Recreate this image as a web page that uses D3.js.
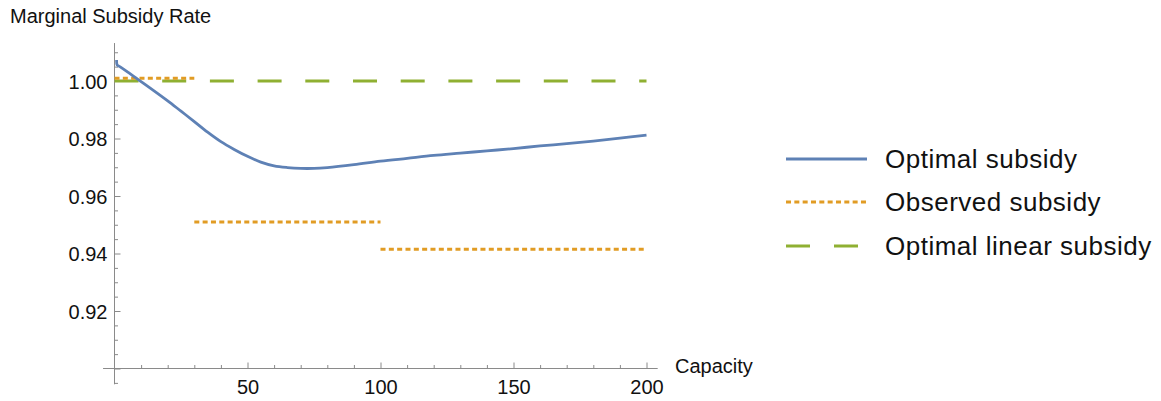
<!DOCTYPE html>
<html>
<head>
<meta charset="utf-8">
<script src="https://cdn.jsdelivr.net/npm/d3@7"></script>
<style>
  html, body { margin: 0; padding: 0; background: #fff; }
  svg { display: block; }
</style>
</head>
<body>
<svg id="chart" width="1161" height="401"></svg>
<script>
// ---- data ----
const capacity = [0.8, 1, 2, 5, 10, 15, 20, 25, 30, 35, 40, 45, 50, 55, 60, 65, 70, 75, 80, 90,
                  100, 110, 120, 130, 140, 150, 160, 170, 180, 190, 200];
const optimalSubsidy = [1.0073, 1.0056, 1.0050, 1.0031, 0.9998, 0.9965, 0.9931, 0.9895, 0.9859, 0.9822,
                        0.9789, 0.9762, 0.9738, 0.9718, 0.9705, 0.9699, 0.9696, 0.9696, 0.9699, 0.9709,
                        0.9721, 0.9731, 0.9741, 0.9749, 0.9757, 0.9765, 0.9774, 0.9782, 0.9791, 0.9801, 0.9812];
const observedStart = [0, 30, 100];
const observedEnd   = [30, 100, 200];
const observedRate  = [1.001, 0.951, 0.9415];
const linearCapacity = [0, 200];
const linearRate     = [1.0, 1.0];
const seriesNames = ["Optimal subsidy", "Observed subsidy", "Optimal linear subsidy"];
const xMajorTicks = [50, 100, 150, 200];
const yMajorTicks = [0.90, 0.92, 0.94, 0.96, 0.98, 1.00];

// ---- layout ----
const colors = ["#5E81B5", "#E19C24", "#8FB032"];
const svg = d3.select("#chart");
const x = d3.scaleLinear().domain([0, 200]).range([114.5, 646.5]);
const y = d3.scaleLinear().domain([0.90, 1.00]).range([368.5, 81]);
const axisColor = "#8a8a8a";
const font = "'Liberation Sans', Arial, sans-serif";

// axis lines
svg.append("line").attr("x1", x(-4.3)).attr("x2", x(204.2))
  .attr("y1", y(0.9)).attr("y2", y(0.9)).attr("stroke", axisColor).attr("stroke-width", 1);
svg.append("line").attr("x1", x(0)).attr("x2", x(0))
  .attr("y1", y(1.0132)).attr("y2", y(0.8945)).attr("stroke", axisColor).attr("stroke-width", 1);

// minor ticks
const xMinor = d3.range(10, 201, 10).filter(v => v % 50 !== 0);
svg.append("g").attr("transform", `translate(0,${y(0.9)})`)
  .call(d3.axisBottom(x).tickValues(xMinor).tickSizeInner(-3.5).tickSizeOuter(0).tickFormat(""))
  .call(g => g.select(".domain").remove())
  .call(g => g.selectAll("line").attr("stroke", axisColor));
const yMinor = d3.range(0, 24).map(i => +(0.895 + i * 0.005).toFixed(3)).filter(v => Math.round(v * 1000) % 20 !== 0);
svg.append("g").attr("transform", `translate(${x(0)},0)`)
  .call(d3.axisLeft(y).tickValues(yMinor).tickSizeInner(-3.5).tickSizeOuter(0).tickFormat(""))
  .call(g => g.select(".domain").remove())
  .call(g => g.selectAll("line").attr("stroke", axisColor));

// major ticks
svg.append("g").attr("transform", `translate(0,${y(0.9)})`)
  .call(d3.axisBottom(x).tickValues(xMajorTicks).tickSizeInner(-6).tickSizeOuter(0).tickPadding(10.8).tickFormat(d3.format("d")))
  .call(g => g.select(".domain").remove())
  .call(g => g.selectAll("line").attr("stroke", axisColor))
  .call(g => g.selectAll("text").attr("fill", "#111").attr("font-size", 20).attr("font-family", font));
svg.append("g").attr("transform", `translate(${x(0)},0)`)
  .call(d3.axisLeft(y).tickValues(yMajorTicks).tickSizeInner(-6).tickSizeOuter(0).tickPadding(7).tickFormat(d3.format(".2f")))
  .call(g => g.select(".domain").remove())
  .call(g => g.selectAll("line").attr("stroke", axisColor))
  .call(g => g.selectAll("text").attr("fill", "#111").attr("font-size", 20).attr("font-family", font)
    .attr("dy", null).attr("y", 7))
  .call(g => g.selectAll(".tick").filter(d => d === 0.90).select("text").remove());

// axis labels
svg.append("text").attr("x", 10).attr("y", 23).text("Marginal Subsidy Rate")
  .attr("font-size", 20).attr("font-family", font).attr("fill", "#111");
svg.append("text").attr("x", 675).attr("y", 373).text("Capacity")
  .attr("font-size", 20).attr("font-family", font).attr("fill", "#111");

// series
const plot = svg.append("g");
plot.append("path")
  .datum(linearCapacity.map((c, i) => [c, linearRate[i]]))
  .attr("d", d3.line().x(d => x(d[0])).y(d => y(d[1])))
  .attr("fill", "none").attr("stroke", colors[2]).attr("stroke-width", 3.2)
  .attr("stroke-dasharray", "24,23.7");
plot.selectAll(".obs").data(observedRate).enter().append("line")
  .attr("x1", (d, i) => x(observedStart[i])).attr("x2", (d, i) => x(observedEnd[i]))
  .attr("y1", d => y(d)).attr("y2", d => y(d))
  .attr("stroke", colors[1]).attr("stroke-width", 3).attr("stroke-dasharray", "5,3.33");
plot.append("path")
  .datum(capacity.map((c, i) => [c, optimalSubsidy[i]]))
  .attr("d", d3.line().x(d => x(d[0])).y(d => y(d[1])).curve(d3.curveCatmullRom.alpha(0.5)))
  .attr("fill", "none").attr("stroke", colors[0]).attr("stroke-width", 2.8)
  .attr("stroke-linejoin", "round");

// legend
const legendY = [159, 202, 246];
const dashes = [null, "5,3.33", "24,24"];
const widths = [2.8, 3, 3.2];
const leg = svg.append("g");
seriesNames.forEach((name, i) => {
  leg.append("line").attr("x1", 786).attr("x2", 867).attr("y1", legendY[i]).attr("y2", legendY[i])
    .attr("stroke", colors[i]).attr("stroke-width", widths[i]).attr("stroke-dasharray", dashes[i]);
  leg.append("text").attr("x", 885).attr("y", legendY[i] + 9).text(name)
    .attr("font-size", 26).attr("letter-spacing", 0.5).attr("font-family", font).attr("fill", "#111");
});
</script>
</body>
</html>
